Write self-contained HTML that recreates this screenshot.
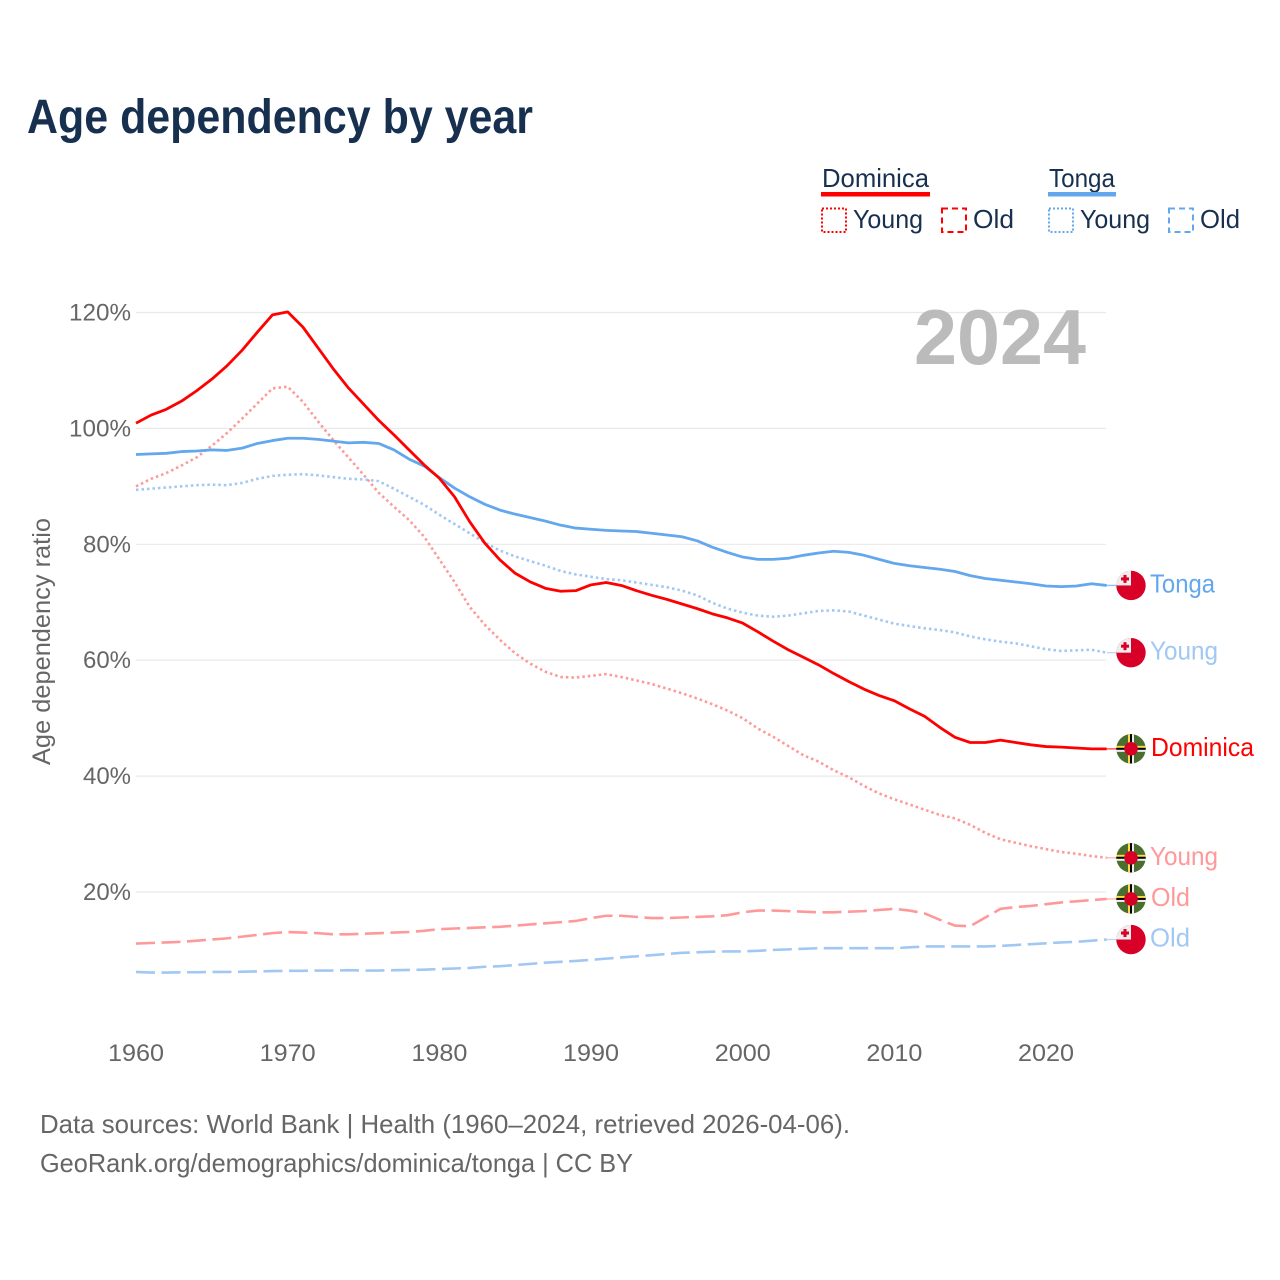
<!DOCTYPE html>
<html lang="en">
<head>
<meta charset="utf-8">
<title>Age dependency by year</title>
<style>
html,body{margin:0;padding:0;background:#fff;}
svg{display:block;font-family:"Liberation Sans",sans-serif;}
</style>
</head>
<body>
<svg id="chart" xmlns="http://www.w3.org/2000/svg" width="1280" height="1280" viewBox="0 0 1280 1280">
<defs>
<clipPath id="flag-clip"><circle cx="0" cy="0" r="14.7"/></clipPath>
<g id="flag-tonga" clip-path="url(#flag-clip)">
<rect x="-15" y="-15" width="30" height="30" fill="#d80027"/>
<rect x="-15" y="-15" width="15" height="15" fill="#eeeeee"/>
<rect x="-7.5" y="-10.5" width="3" height="8" fill="#d80027"/>
<rect x="-10" y="-8" width="8" height="3" fill="#d80027"/>
</g>
<g id="flag-dominica" clip-path="url(#flag-clip)">
<rect x="-15" y="-15" width="30" height="30" fill="#496e2d"/>
<rect x="-3" y="-15" width="2" height="30" fill="#ffda44"/>
<rect x="-1" y="-15" width="2" height="30" fill="#000000"/>
<rect x="1" y="-15" width="2" height="30" fill="#eeeeee"/>
<rect x="-15" y="-3" width="30" height="2" fill="#ffda44"/>
<rect x="-15" y="-1" width="30" height="2" fill="#000000"/>
<rect x="-15" y="1" width="30" height="2" fill="#eeeeee"/>
<circle cx="0" cy="0" r="6.8" fill="#d80027"/>
</g>
</defs>

<text x="27" y="133" font-size="48" font-weight="700" fill="#17304f" textLength="506" lengthAdjust="spacingAndGlyphs">Age dependency by year</text>

<g>
<text x="822" y="187" font-size="26" fill="#17304f" textLength="107" lengthAdjust="spacingAndGlyphs">Dominica</text>
<rect x="821" y="192" width="109" height="4.5" fill="#ff0000"/>
<rect x="822" y="208.5" width="24" height="23.5" fill="none" stroke="#ff0000" stroke-width="2" stroke-dasharray="2 2"/>
<text x="853" y="228" font-size="26" fill="#17304f" textLength="70" lengthAdjust="spacingAndGlyphs">Young</text>
<rect x="942" y="208.5" width="24" height="23.5" fill="none" stroke="#ff0000" stroke-width="2" stroke-dasharray="6 4"/>
<text x="973" y="228" font-size="26" fill="#17304f" textLength="41" lengthAdjust="spacingAndGlyphs">Old</text>
<text x="1049" y="187" font-size="26" fill="#17304f" textLength="66" lengthAdjust="spacingAndGlyphs">Tonga</text>
<rect x="1048" y="192" width="68" height="4.5" fill="#63a7ec"/>
<rect x="1049" y="208.5" width="24" height="23.5" fill="none" stroke="#63a7ec" stroke-width="2" stroke-dasharray="2 2"/>
<text x="1080" y="228" font-size="26" fill="#17304f" textLength="70" lengthAdjust="spacingAndGlyphs">Young</text>
<rect x="1169" y="208.5" width="24" height="23.5" fill="none" stroke="#63a7ec" stroke-width="2" stroke-dasharray="6 4"/>
<text x="1200" y="228" font-size="26" fill="#17304f" textLength="40" lengthAdjust="spacingAndGlyphs">Old</text>
</g>

<text transform="translate(50,765) rotate(-90)" font-size="25" fill="#666666" textLength="247" lengthAdjust="spacingAndGlyphs">Age dependency ratio</text>

<g id="grid"></g>
<g id="y-ticks"></g>
<g id="x-ticks"></g>

<text x="914" y="364" font-size="78" font-weight="700" fill="#bbbbbb" textLength="172" lengthAdjust="spacingAndGlyphs">2024</text>

<g id="series"></g>
<g id="ends"></g>

<text x="40" y="1133" font-size="26" fill="#666666" textLength="810" lengthAdjust="spacingAndGlyphs">Data sources: World Bank | Health (1960–2024, retrieved 2026-04-06).</text>
<text x="40" y="1172" font-size="26" fill="#666666" textLength="593" lengthAdjust="spacingAndGlyphs">GeoRank.org/demographics/dominica/tonga | CC BY</text>
</svg>

<script>
const years = [1960,1961,1962,1963,1964,1965,1966,1967,1968,1969,1970,1971,1972,1973,1974,1975,1976,1977,1978,1979,1980,1981,1982,1983,1984,1985,1986,1987,1988,1989,1990,1991,1992,1993,1994,1995,1996,1997,1998,1999,2000,2001,2002,2003,2004,2005,2006,2007,2008,2009,2010,2011,2012,2013,2014,2015,2016,2017,2018,2019,2020,2021,2022,2023,2024];
const dominicaTotal = [100.9,102.3,103.3,104.7,106.5,108.5,110.8,113.5,116.6,119.6,120.1,117.5,113.9,110.3,107,104.2,101.4,98.9,96.3,93.7,91.4,88.2,83.9,80.2,77.3,75,73.5,72.4,71.9,72,73,73.4,72.9,72,71.2,70.5,69.7,68.9,68,67.3,66.4,64.9,63.3,61.8,60.5,59.2,57.7,56.3,55,53.9,53,51.6,50.3,48.4,46.7,45.8,45.8,46.2,45.8,45.4,45.1,45,44.85,44.7,44.7];
const dominicaYoung = [90,91.3,92.3,93.6,95,97,99.2,101.7,104.3,106.9,107.2,104.6,101.2,98,95,92,88.9,86.5,84.2,81.3,77.4,73.5,69.2,66.1,63.5,61.2,59.4,58,57.1,57,57.3,57.6,57.1,56.5,55.9,55.1,54.3,53.4,52.4,51.3,50,48.2,46.8,45.2,43.6,42.5,41,39.8,38.3,37,36,35.1,34.2,33.3,32.7,31.6,30.2,29.1,28.5,27.9,27.4,26.9,26.6,26.2,25.9];
const dominicaOld = [11.1,11.2,11.3,11.4,11.6,11.8,12,12.3,12.6,12.9,13.1,13,12.9,12.7,12.7,12.8,12.9,13,13.1,13.3,13.6,13.7,13.8,13.9,14,14.2,14.4,14.6,14.8,15,15.5,15.9,15.9,15.7,15.5,15.5,15.6,15.7,15.8,16,16.5,16.8,16.8,16.7,16.6,16.5,16.5,16.6,16.7,16.9,17.1,16.8,16.3,15.2,14.2,14.1,15.6,17.1,17.4,17.6,17.9,18.2,18.4,18.6,18.8];
const tongaTotal = [95.5,95.6,95.7,96,96.1,96.3,96.2,96.6,97.4,97.9,98.3,98.3,98.1,97.8,97.5,97.6,97.4,96.3,94.7,93.5,91.5,89.7,88.2,86.9,85.9,85.2,84.6,84,83.3,82.8,82.6,82.4,82.3,82.2,81.9,81.6,81.3,80.6,79.5,78.6,77.8,77.4,77.4,77.6,78.1,78.5,78.8,78.6,78.1,77.4,76.7,76.3,76,75.7,75.3,74.6,74.1,73.8,73.5,73.2,72.8,72.7,72.8,73.2,72.9];
const tongaYoung = [89.4,89.6,89.8,90,90.2,90.3,90.2,90.6,91.3,91.8,92,92.1,91.9,91.6,91.3,91.2,90.9,89.6,88.2,86.8,85.1,83.5,81.9,80.3,78.9,77.9,77.1,76.3,75.4,74.8,74.4,74,73.8,73.4,73,72.6,72,71.2,69.9,68.9,68.2,67.7,67.5,67.7,68.1,68.5,68.6,68.4,67.7,67,66.3,65.9,65.5,65.2,64.8,64.1,63.6,63.2,62.9,62.4,61.9,61.6,61.7,61.8,61.3];
const tongaOld = [6.2,6.1,6.1,6.15,6.15,6.2,6.2,6.25,6.3,6.35,6.4,6.4,6.45,6.45,6.5,6.45,6.45,6.5,6.55,6.6,6.7,6.8,6.9,7.1,7.2,7.4,7.6,7.8,7.95,8.1,8.3,8.5,8.7,8.9,9.1,9.3,9.5,9.6,9.7,9.75,9.75,9.85,10,10.1,10.2,10.3,10.3,10.3,10.3,10.3,10.3,10.45,10.6,10.6,10.6,10.6,10.6,10.7,10.85,11,11.15,11.3,11.4,11.6,11.8];
const yTickValues = [20,40,60,80,100,120];
const yTickLabels = ['20%','40%','60%','80%','100%','120%'];
const xTickValues = [1960,1970,1980,1990,2000,2010,2020];
const xTickLabels = ['1960','1970','1980','1990','2000','2010','2020'];

const SVGNS = 'http://www.w3.org/2000/svg';
function xScale(year){ return 136 + (year - 1960) * (1106.7 - 136) / 64; }
function yScale(v){ return 892 - (v - 20) * 5.795; }
function mk(tag, parent){
  const el = document.createElementNS(SVGNS, tag);
  parent.appendChild(el);
  return el;
}

const gridG = document.getElementById('grid');
const yG = document.getElementById('y-ticks');
const xG = document.getElementById('x-ticks');
yTickValues.forEach(function(v, i){
  const line = mk('line', gridG);
  
  
  line.setAttribute('x1', 136);
  line.setAttribute('x2', 1106);
  line.setAttribute('y1', yScale(v));
  line.setAttribute('y2', yScale(v));
  line.setAttribute('stroke', '#e9e9e9');
  line.setAttribute('stroke-width', 1.2);
  const t = mk('text', yG);
  
  
  t.setAttribute('x', 131);
  t.setAttribute('y', yScale(v) + 8);
  t.setAttribute('text-anchor', 'end');
  t.setAttribute('font-size', 24);
  t.setAttribute('fill', '#666666');
  t.setAttribute('textLength', yTickLabels[i].length === 4 ? 62 : 48);
  t.setAttribute('lengthAdjust', 'spacingAndGlyphs');
  t.textContent = yTickLabels[i];
});
xTickValues.forEach(function(v, i){
  const t = mk('text', xG);
  
  
  t.setAttribute('x', xScale(v));
  t.setAttribute('y', 1061);
  t.setAttribute('text-anchor', 'middle');
  t.setAttribute('font-size', 24);
  t.setAttribute('fill', '#666666');
  t.setAttribute('textLength', 56);
  t.setAttribute('lengthAdjust', 'spacingAndGlyphs');
  t.textContent = xTickLabels[i];
});

const seriesList = [
  {id:'dominica-old', values:dominicaOld, color:'#ff9999', dash:'19 6.5', width:2.6, flag:'flag-dominica', label:'Old', lw:39, lx:1151},
  {id:'tonga-old', values:tongaOld, color:'#a1c8f3', dash:'19 6.5', width:2.6, flag:'flag-tonga', label:'Old', lw:40, lx:1150},
  {id:'dominica-young', values:dominicaYoung, color:'#ff9999', dash:'2.5 3', width:2.6, flag:'flag-dominica', label:'Young', lw:68, lx:1150},
  {id:'tonga-young', values:tongaYoung, color:'#a1c8f3', dash:'2.5 3', width:2.6, flag:'flag-tonga', label:'Young', lw:68, lx:1150},
  {id:'tonga-total', values:tongaTotal, color:'#63a7ec', dash:'', width:2.8, flag:'flag-tonga', label:'Tonga', lw:65, lx:1150},
  {id:'dominica-total', values:dominicaTotal, color:'#ff0000', dash:'', width:2.8, flag:'flag-dominica', label:'Dominica', lw:103, lx:1151}
];
const seriesG = document.getElementById('series');
const endsG = document.getElementById('ends');
seriesList.forEach(function(s){
  const pts = s.values.map(function(v, i){ return xScale(years[i]).toFixed(2) + ',' + yScale(v).toFixed(2); }).join(' ');
  const pl = mk('polyline', seriesG);
  
  
  pl.setAttribute('points', pts);
  pl.setAttribute('fill', 'none');
  pl.setAttribute('stroke', s.color);
  pl.setAttribute('stroke-width', s.width);
  pl.setAttribute('stroke-linejoin', 'round');
  if (s.dash) pl.setAttribute('stroke-dasharray', s.dash);

  const lastV = s.values[s.values.length - 1];
  const ey = yScale(lastV);
  const ex = xScale(years[years.length - 1]);
  const conn = mk('line', endsG);
  
  
  conn.setAttribute('x1', ex);
  conn.setAttribute('x2', 1117);
  conn.setAttribute('y1', ey);
  conn.setAttribute('y2', ey);
  conn.setAttribute('stroke', s.color);
  conn.setAttribute('stroke-width', 1.4);
  conn.setAttribute('stroke-opacity', 0.7);

  const flag = mk('use', endsG);
  
  
  flag.setAttribute('href', '#' + s.flag);
  flag.setAttribute('transform', 'translate(1131,' + ey.toFixed(2) + ')');

  const t = mk('text', endsG);
  
  
  t.setAttribute('x', s.lx);
  t.setAttribute('y', ey + 7);
  t.setAttribute('font-size', 26);
  t.setAttribute('fill', s.color);
  t.setAttribute('textLength', s.lw);
  t.setAttribute('lengthAdjust', 'spacingAndGlyphs');
  t.textContent = s.label;
});
</script>
</body>
</html>
